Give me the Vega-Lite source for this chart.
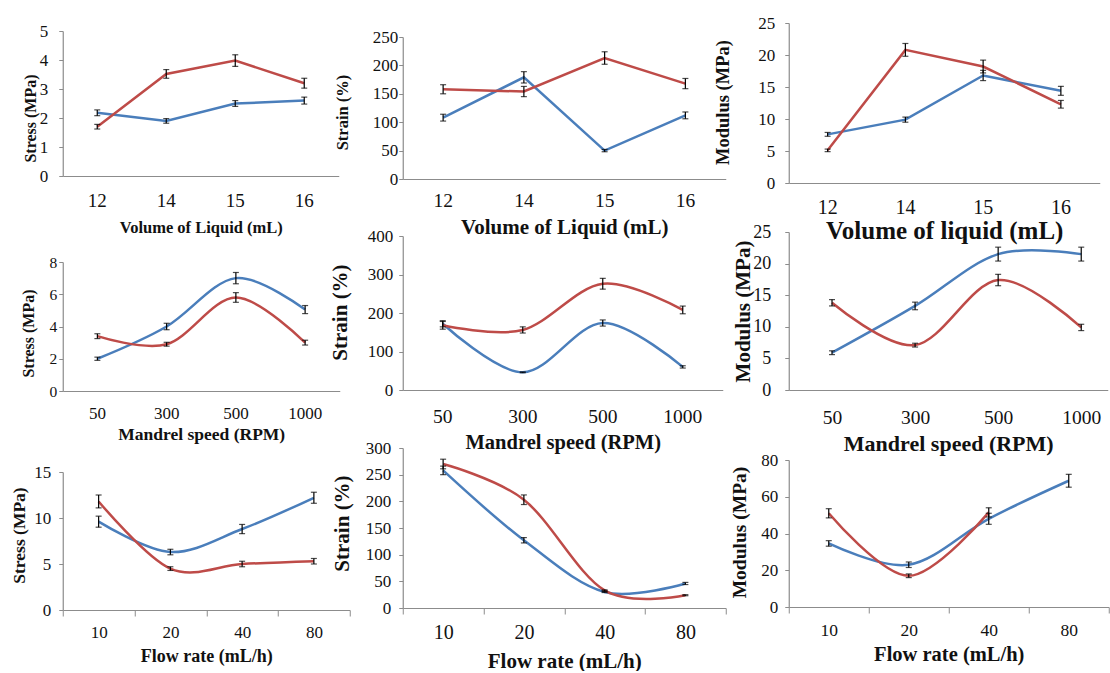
{
  "$schema": "https://vega.github.io/schema/vega-lite/v6.json",
  "autosize": {"type": "pad"},
  "padding": {"left": 9.75, "top": 0, "right": 0, "bottom": 0},
  "background": "white",
  "data": {"values": [
    {"p":"A","s":"blue","x":"12","y":2.18,"lo":2.08,"hi":2.28},
    {"p":"A","s":"blue","x":"14","y":1.9,"lo":1.82,"hi":1.98},
    {"p":"A","s":"blue","x":"15","y":2.5,"lo":2.4,"hi":2.6},
    {"p":"A","s":"blue","x":"16","y":2.6,"lo":2.48,"hi":2.72},
    {"p":"A","s":"red","x":"12","y":1.7,"lo":1.62,"hi":1.78},
    {"p":"A","s":"red","x":"14","y":3.52,"lo":3.37,"hi":3.67},
    {"p":"A","s":"red","x":"15","y":3.98,"lo":3.78,"hi":4.18},
    {"p":"A","s":"red","x":"16","y":3.2,"lo":3.03,"hi":3.37},
    {"p":"B","s":"blue","x":"12","y":108,"lo":102,"hi":114},
    {"p":"B","s":"blue","x":"14","y":179,"lo":169,"hi":189},
    {"p":"B","s":"blue","x":"15","y":50,"lo":48,"hi":52},
    {"p":"B","s":"blue","x":"16","y":112,"lo":106,"hi":118},
    {"p":"B","s":"red","x":"12","y":158,"lo":150,"hi":166},
    {"p":"B","s":"red","x":"14","y":154,"lo":145,"hi":163},
    {"p":"B","s":"red","x":"15","y":213,"lo":202,"hi":224},
    {"p":"B","s":"red","x":"16","y":168,"lo":159,"hi":177},
    {"p":"C","s":"blue","x":"12","y":7.6,"lo":7.3,"hi":7.9},
    {"p":"C","s":"blue","x":"14","y":9.9,"lo":9.5,"hi":10.3},
    {"p":"C","s":"blue","x":"15","y":16.8,"lo":16.0,"hi":17.6},
    {"p":"C","s":"blue","x":"16","y":14.4,"lo":13.7,"hi":15.1},
    {"p":"C","s":"red","x":"12","y":5.1,"lo":4.9,"hi":5.3},
    {"p":"C","s":"red","x":"14","y":20.8,"lo":19.8,"hi":21.8},
    {"p":"C","s":"red","x":"15","y":18.2,"lo":17.2,"hi":19.2},
    {"p":"C","s":"red","x":"16","y":12.3,"lo":11.7,"hi":12.9},
    {"p":"D","s":"blue","x":"50","y":2.0,"lo":1.9,"hi":2.1},
    {"p":"D","s":"blue","x":"300","y":4.0,"lo":3.8,"hi":4.2},
    {"p":"D","s":"blue","x":"500","y":7.0,"lo":6.65,"hi":7.35},
    {"p":"D","s":"blue","x":"1000","y":5.05,"lo":4.8,"hi":5.3},
    {"p":"D","s":"red","x":"50","y":3.4,"lo":3.25,"hi":3.55},
    {"p":"D","s":"red","x":"300","y":2.9,"lo":2.78,"hi":3.02},
    {"p":"D","s":"red","x":"500","y":5.8,"lo":5.5,"hi":6.1},
    {"p":"D","s":"red","x":"1000","y":3.0,"lo":2.85,"hi":3.15},
    {"p":"E","s":"blue","x":"50","y":172,"lo":164,"hi":180},
    {"p":"E","s":"blue","x":"300","y":46,"lo":45,"hi":47},
    {"p":"E","s":"blue","x":"500","y":174,"lo":166,"hi":182},
    {"p":"E","s":"blue","x":"1000","y":60,"lo":57,"hi":63},
    {"p":"E","s":"red","x":"50","y":168,"lo":158,"hi":178},
    {"p":"E","s":"red","x":"300","y":156,"lo":148,"hi":164},
    {"p":"E","s":"red","x":"500","y":276,"lo":262,"hi":290},
    {"p":"E","s":"red","x":"1000","y":208,"lo":198,"hi":218},
    {"p":"F","s":"blue","x":"50","y":5.9,"lo":5.6,"hi":6.2},
    {"p":"F","s":"blue","x":"300","y":13.3,"lo":12.7,"hi":13.9},
    {"p":"F","s":"blue","x":"500","y":21.5,"lo":20.4,"hi":22.6},
    {"p":"F","s":"blue","x":"1000","y":21.5,"lo":20.4,"hi":22.6},
    {"p":"F","s":"red","x":"50","y":13.8,"lo":13.3,"hi":14.3},
    {"p":"F","s":"red","x":"300","y":7.1,"lo":6.8,"hi":7.4},
    {"p":"F","s":"red","x":"500","y":17.4,"lo":16.5,"hi":18.3},
    {"p":"F","s":"red","x":"1000","y":9.9,"lo":9.4,"hi":10.4},
    {"p":"G","s":"blue","x":"10","y":9.6,"lo":9.0,"hi":10.2},
    {"p":"G","s":"blue","x":"20","y":6.3,"lo":6.0,"hi":6.6},
    {"p":"G","s":"blue","x":"40","y":8.8,"lo":8.3,"hi":9.3},
    {"p":"G","s":"blue","x":"80","y":12.2,"lo":11.6,"hi":12.8},
    {"p":"G","s":"red","x":"10","y":11.8,"lo":11.1,"hi":12.5},
    {"p":"G","s":"red","x":"20","y":4.5,"lo":4.3,"hi":4.7},
    {"p":"G","s":"red","x":"40","y":5.0,"lo":4.7,"hi":5.3},
    {"p":"G","s":"red","x":"80","y":5.3,"lo":5.0,"hi":5.6},
    {"p":"H","s":"blue","x":"10","y":258,"lo":250,"hi":266},
    {"p":"H","s":"blue","x":"20","y":127,"lo":122,"hi":132},
    {"p":"H","s":"blue","x":"40","y":30,"lo":29,"hi":31},
    {"p":"H","s":"blue","x":"80","y":46,"lo":44,"hi":48},
    {"p":"H","s":"red","x":"10","y":270,"lo":261,"hi":279},
    {"p":"H","s":"red","x":"20","y":203,"lo":194,"hi":212},
    {"p":"H","s":"red","x":"40","y":33,"lo":32,"hi":34},
    {"p":"H","s":"red","x":"80","y":24,"lo":23,"hi":25},
    {"p":"I","s":"blue","x":"10","y":34.6,"lo":33.1,"hi":36.1},
    {"p":"I","s":"blue","x":"20","y":23,"lo":21.5,"hi":24.5},
    {"p":"I","s":"blue","x":"40","y":48,"lo":45,"hi":51},
    {"p":"I","s":"blue","x":"80","y":68.7,"lo":65.2,"hi":72.2},
    {"p":"I","s":"red","x":"10","y":51,"lo":48.5,"hi":53.5},
    {"p":"I","s":"red","x":"20","y":17,"lo":16,"hi":18},
    {"p":"I","s":"red","x":"40","y":51.5,"lo":49,"hi":54}
  ]},
  "align": "none",
  "spacing": -21,
  "hconcat": [
    {
      "align": "none",
      "spacing": 19,
      "vconcat": [
        {"width": 1, "height": 3, "transform": [{"filter": "false"}], "mark": "point", "encoding": {}},
        {
          "width": 276, "height": 145,
          "transform": [{"filter": "datum.p === 'A'"}],
          "resolve": {"axis": {"y": "independent"}},
          "encoding": {"x": {"field": "x", "type": "ordinal", "sort": null, "scale": {"paddingInner": 0, "paddingOuter": 0},
            "axis": {"title": "Volume of Liquid (mL)", "labelFontSize": 19, "labelPadding": 24, "titleFontSize": 16.5, "titleY": 51}}},
          "layer": [
            {"mark": {"type": "line", "interpolate": "linear", "strokeWidth": 2.5},
             "encoding": {"y": {"field": "y", "type": "quantitative", "scale": {"domain": [0, 5], "nice": false},
               "axis": {"title": "Stress (MPa)", "values": [0,1,2,3,4,5], "labelFontSize": 17, "labelPadding": 11, "titleFontSize": 16, "titleX": -32, "titleY": 87}},
               "color": {"field": "s", "type": "nominal", "scale": {"domain": ["blue","red"], "range": ["#4A7EBB","#BE4B48"]}, "legend": null}}},
            {"mark": {"type": "rule", "color": "#000", "strokeWidth": 1.2},
             "encoding": {"y": {"field": "lo", "type": "quantitative", "scale": {"domain": [0, 5], "nice": false}, "axis": null}, "y2": {"field": "hi"}}},
            {"transform": [{"fold": ["lo","hi"], "as": ["k","v"]}],
             "mark": {"type": "tick", "color": "#000", "size": 6, "thickness": 1.2},
             "encoding": {"y": {"field": "v", "type": "quantitative", "scale": {"domain": [0, 5], "nice": false}, "axis": null}}}
          ]
        },
        {
          "align": "none",
          "spacing": 20,
          "vconcat": [
            {
              "width": 277, "height": 129,
              "transform": [{"filter": "datum.p === 'D'"}],
              "resolve": {"axis": {"y": "independent"}},
              "encoding": {"x": {"field": "x", "type": "ordinal", "sort": null, "scale": {"paddingInner": 0, "paddingOuter": 0},
                "axis": {"title": "Mandrel speed (RPM)", "labelFontSize": 17, "labelPadding": 22, "titleFontSize": 17.5, "titleY": 43}}},
              "layer": [
                {"mark": {"type": "line", "interpolate": "cardinal", "strokeWidth": 2.5},
                 "encoding": {"y": {"field": "y", "type": "quantitative", "scale": {"domain": [0, 8], "nice": false},
                   "axis": {"title": "Stress (MPa)", "values": [0,2,4,6,8], "labelFontSize": 15.5, "labelPadding": 2, "titleFontSize": 16, "titleX": -34.5, "titleY": 71}},
                   "color": {"field": "s", "type": "nominal", "scale": {"domain": ["blue","red"], "range": ["#4A7EBB","#BE4B48"]}, "legend": null}}},
                {"mark": {"type": "rule", "color": "#000", "strokeWidth": 1.2},
                 "encoding": {"y": {"field": "lo", "type": "quantitative", "scale": {"domain": [0, 8], "nice": false}, "axis": null}, "y2": {"field": "hi"}}},
                {"transform": [{"fold": ["lo","hi"], "as": ["k","v"]}],
                 "mark": {"type": "tick", "color": "#000", "size": 6, "thickness": 1.2},
                 "encoding": {"y": {"field": "v", "type": "quantitative", "scale": {"domain": [0, 8], "nice": false}, "axis": null}}}
              ]
            },
            {
              "width": 287, "height": 138,
              "transform": [{"filter": "datum.p === 'G'"}],
              "resolve": {"axis": {"y": "independent"}},
              "encoding": {"x": {"field": "x", "type": "ordinal", "sort": null, "scale": {"paddingInner": 0, "paddingOuter": 0},
                "axis": {"title": "Flow rate (mL/h)", "labelFontSize": 17, "labelPadding": 16, "ticks": true, "tickSize": 6, "tickBand": "extent", "titleFontSize": 18, "titleY": 46}}},
              "layer": [
                {"mark": {"type": "line", "interpolate": "cardinal", "strokeWidth": 2.5},
                 "encoding": {"y": {"field": "y", "type": "quantitative", "scale": {"domain": [0, 15], "nice": false},
                   "axis": {"title": "Stress (MPa)", "values": [0,5,10,15], "labelFontSize": 17, "labelPadding": 8, "titleFontSize": 17.5, "titleX": -43.5, "titleY": 63}},
                   "color": {"field": "s", "type": "nominal", "scale": {"domain": ["blue","red"], "range": ["#4A7EBB","#BE4B48"]}, "legend": null}}},
                {"mark": {"type": "rule", "color": "#000", "strokeWidth": 1.2},
                 "encoding": {"y": {"field": "lo", "type": "quantitative", "scale": {"domain": [0, 15], "nice": false}, "axis": null}, "y2": {"field": "hi"}}},
                {"transform": [{"fold": ["lo","hi"], "as": ["k","v"]}],
                 "mark": {"type": "tick", "color": "#000", "size": 6, "thickness": 1.2},
                 "encoding": {"y": {"field": "v", "type": "quantitative", "scale": {"domain": [0, 15], "nice": false}, "axis": null}}}
              ]
            }
          ]
        }
      ]
    },
    {
      "align": "none",
      "spacing": -13,
      "hconcat": [
        {
          "align": "none",
          "spacing": -10,
          "vconcat": [
            {"width": 1, "height": 38, "transform": [{"filter": "false"}], "mark": "point", "encoding": {}},
            {
              "width": 323, "height": 142,
              "transform": [{"filter": "datum.p === 'B'"}],
              "resolve": {"axis": {"y": "independent"}},
              "encoding": {"x": {"field": "x", "type": "ordinal", "sort": null, "scale": {"paddingInner": 0, "paddingOuter": 0},
                "axis": {"title": "Volume of Liquid (mL)", "labelFontSize": 19.5, "labelPadding": 21, "titleFontSize": 21, "titleY": 48}}},
              "layer": [
                {"mark": {"type": "line", "interpolate": "linear", "strokeWidth": 2.5},
                 "encoding": {"y": {"field": "y", "type": "quantitative", "scale": {"domain": [0, 250], "nice": false},
                   "axis": {"title": "Strain (%)", "values": [0,50,100,150,200,250], "labelFontSize": 17, "labelPadding": 1, "titleFontSize": 16.5, "titleX": -60, "titleY": 75}},
                   "color": {"field": "s", "type": "nominal", "scale": {"domain": ["blue","red"], "range": ["#4A7EBB","#BE4B48"]}, "legend": null}}},
                {"mark": {"type": "rule", "color": "#000", "strokeWidth": 1.2},
                 "encoding": {"y": {"field": "lo", "type": "quantitative", "scale": {"domain": [0, 250], "nice": false}, "axis": null}, "y2": {"field": "hi"}}},
                {"transform": [{"fold": ["lo","hi"], "as": ["k","v"]}],
                 "mark": {"type": "tick", "color": "#000", "size": 6, "thickness": 1.2},
                 "encoding": {"y": {"field": "v", "type": "quantitative", "scale": {"domain": [0, 250], "nice": false}, "axis": null}}}
              ]
            },
            {
              "align": "none",
              "spacing": -14,
              "vconcat": [
                {
                  "width": 320, "height": 154,
                  "transform": [{"filter": "datum.p === 'E'"}],
                  "resolve": {"axis": {"y": "independent"}},
                  "encoding": {"x": {"field": "x", "type": "ordinal", "sort": null, "scale": {"paddingInner": 0, "paddingOuter": 0},
                    "axis": {"title": "Mandrel speed (RPM)", "labelFontSize": 19.5, "labelPadding": 26, "titleFontSize": 20.5, "titleY": 52}}},
                  "layer": [
                    {"mark": {"type": "line", "interpolate": "cardinal", "strokeWidth": 2.5},
                     "encoding": {"y": {"field": "y", "type": "quantitative", "scale": {"domain": [0, 400], "nice": false},
                       "axis": {"title": "Strain (%)", "values": [0,100,200,300,400], "labelFontSize": 17, "labelPadding": 6, "titleFontSize": 21, "titleX": -62, "titleY": 76}},
                       "color": {"field": "s", "type": "nominal", "scale": {"domain": ["blue","red"], "range": ["#4A7EBB","#BE4B48"]}, "legend": null}}},
                    {"mark": {"type": "rule", "color": "#000", "strokeWidth": 1.2},
                     "encoding": {"y": {"field": "lo", "type": "quantitative", "scale": {"domain": [0, 400], "nice": false}, "axis": null}, "y2": {"field": "hi"}}},
                    {"transform": [{"fold": ["lo","hi"], "as": ["k","v"]}],
                     "mark": {"type": "tick", "color": "#000", "size": 6, "thickness": 1.2},
                     "encoding": {"y": {"field": "v", "type": "quantitative", "scale": {"domain": [0, 400], "nice": false}, "axis": null}}}
                  ]
                },
                {
                  "width": 323, "height": 160,
                  "transform": [{"filter": "datum.p === 'H'"}],
                  "resolve": {"axis": {"y": "independent"}},
                  "encoding": {"x": {"field": "x", "type": "ordinal", "sort": null, "scale": {"paddingInner": 0, "paddingOuter": 0},
                    "axis": {"title": "Flow rate (mL/h)", "labelFontSize": 20, "labelPadding": 18, "ticks": true, "tickSize": 6, "tickBand": "extent", "titleFontSize": 21, "titleY": 53}}},
                  "layer": [
                    {"mark": {"type": "line", "interpolate": "cardinal", "strokeWidth": 2.5},
                     "encoding": {"y": {"field": "y", "type": "quantitative", "scale": {"domain": [0, 300], "nice": false},
                       "axis": {"title": "Strain (%)", "values": [0,50,100,150,200,250,300], "labelFontSize": 17, "labelPadding": 8, "titleFontSize": 21, "titleX": -60, "titleY": 75}},
                       "color": {"field": "s", "type": "nominal", "scale": {"domain": ["blue","red"], "range": ["#4A7EBB","#BE4B48"]}, "legend": null}}},
                    {"mark": {"type": "rule", "color": "#000", "strokeWidth": 1.2},
                     "encoding": {"y": {"field": "lo", "type": "quantitative", "scale": {"domain": [0, 300], "nice": false}, "axis": null}, "y2": {"field": "hi"}}},
                    {"transform": [{"fold": ["lo","hi"], "as": ["k","v"]}],
                     "mark": {"type": "tick", "color": "#000", "size": 6, "thickness": 1.2},
                     "encoding": {"y": {"field": "v", "type": "quantitative", "scale": {"domain": [0, 300], "nice": false}, "axis": null}}}
                  ]
                }
              ]
            }
          ]
        },
        {
          "align": "none",
          "spacing": -20,
          "vconcat": [
            {"width": 1, "height": 34, "transform": [{"filter": "false"}], "mark": "point", "encoding": {}},
            {
              "width": 311, "height": 160,
              "transform": [{"filter": "datum.p === 'C'"}],
              "resolve": {"axis": {"y": "independent"}},
              "encoding": {"x": {"field": "x", "type": "ordinal", "sort": null, "scale": {"paddingInner": 0, "paddingOuter": 0},
                "axis": {"title": "Volume of liquid (mL)", "labelFontSize": 20, "labelPadding": 24, "titleFontSize": 25, "titleY": 47}}},
              "layer": [
                {"mark": {"type": "line", "interpolate": "linear", "strokeWidth": 2.5},
                 "encoding": {"y": {"field": "y", "type": "quantitative", "scale": {"domain": [0, 25], "nice": false},
                   "axis": {"title": "Modulus (MPa)", "values": [0,5,10,15,20,25], "labelFontSize": 17, "labelPadding": 10, "titleFontSize": 18.5, "titleX": -66, "titleY": 79}},
                   "color": {"field": "s", "type": "nominal", "scale": {"domain": ["blue","red"], "range": ["#4A7EBB","#BE4B48"]}, "legend": null}}},
                {"mark": {"type": "rule", "color": "#000", "strokeWidth": 1.2},
                 "encoding": {"y": {"field": "lo", "type": "quantitative", "scale": {"domain": [0, 25], "nice": false}, "axis": null}, "y2": {"field": "hi"}}},
                {"transform": [{"fold": ["lo","hi"], "as": ["k","v"]}],
                 "mark": {"type": "tick", "color": "#000", "size": 6, "thickness": 1.2},
                 "encoding": {"y": {"field": "v", "type": "quantitative", "scale": {"domain": [0, 25], "nice": false}, "axis": null}}}
              ]
            },
            {
              "align": "none",
              "spacing": -3,
              "vconcat": [
                {
                  "width": 319, "height": 158,
                  "transform": [{"filter": "datum.p === 'F'"}],
                  "resolve": {"axis": {"y": "independent"}},
                  "encoding": {"x": {"field": "x", "type": "ordinal", "sort": null, "scale": {"type": "point", "padding": 0.42, "align": 0.62},
                    "axis": {"title": "Mandrel speed (RPM)", "labelFontSize": 19.5, "labelPadding": 27, "titleFontSize": 22, "titleY": 53}}},
                  "layer": [
                    {"mark": {"type": "line", "interpolate": "cardinal", "strokeWidth": 2.5},
                     "encoding": {"y": {"field": "y", "type": "quantitative", "scale": {"domain": [0, 25], "nice": false},
                       "axis": {"title": "Modulus (MPa)", "values": [0,5,10,15,20,25], "labelFontSize": 18, "labelPadding": 14, "titleFontSize": 21, "titleX": -45, "titleY": 79}},
                       "color": {"field": "s", "type": "nominal", "scale": {"domain": ["blue","red"], "range": ["#4A7EBB","#BE4B48"]}, "legend": null}}},
                    {"mark": {"type": "rule", "color": "#000", "strokeWidth": 1.2},
                     "encoding": {"y": {"field": "lo", "type": "quantitative", "scale": {"domain": [0, 25], "nice": false}, "axis": null}, "y2": {"field": "hi"}}},
                    {"transform": [{"fold": ["lo","hi"], "as": ["k","v"]}],
                     "mark": {"type": "tick", "color": "#000", "size": 6, "thickness": 1.2},
                     "encoding": {"y": {"field": "v", "type": "quantitative", "scale": {"domain": [0, 25], "nice": false}, "axis": null}}}
                  ]
                },
                {
                  "width": 320, "height": 147,
                  "transform": [{"filter": "datum.p === 'I'"}],
                  "resolve": {"axis": {"y": "independent"}},
                  "encoding": {"x": {"field": "x", "type": "ordinal", "sort": null, "scale": {"paddingInner": 0, "paddingOuter": 0},
                    "axis": {"title": "Flow rate (mL/h)", "labelFontSize": 17.5, "labelPadding": 17, "ticks": true, "tickSize": 6, "tickBand": "extent", "titleFontSize": 20.5, "titleY": 47}}},
                  "layer": [
                    {"mark": {"type": "line", "interpolate": "cardinal", "strokeWidth": 2.5},
                     "encoding": {"y": {"field": "y", "type": "quantitative", "scale": {"domain": [0, 80], "nice": false},
                       "axis": {"title": "Modulus (MPa)", "values": [0,20,40,60,80], "labelFontSize": 17, "labelPadding": 7, "titleFontSize": 19.5, "titleX": -49, "titleY": 72}},
                       "color": {"field": "s", "type": "nominal", "scale": {"domain": ["blue","red"], "range": ["#4A7EBB","#BE4B48"]}, "legend": null}}},
                    {"mark": {"type": "rule", "color": "#000", "strokeWidth": 1.2},
                     "encoding": {"y": {"field": "lo", "type": "quantitative", "scale": {"domain": [0, 80], "nice": false}, "axis": null}, "y2": {"field": "hi"}}},
                    {"transform": [{"fold": ["lo","hi"], "as": ["k","v"]}],
                     "mark": {"type": "tick", "color": "#000", "size": 6, "thickness": 1.2},
                     "encoding": {"y": {"field": "v", "type": "quantitative", "scale": {"domain": [0, 80], "nice": false}, "axis": null}}}
                  ]
                }
              ]
            }
          ]
        }
      ]
    }
  ],
  "config": {
    "view": {"stroke": null},
    "font": "Liberation Serif",
    "axis": {"labelFont": "Liberation Serif", "titleFont": "Liberation Serif", "labelColor": "#111111", "titleColor": "#111111", "domainColor": "#8c8c8c", "tickColor": "#8c8c8c", "domainWidth": 1.2, "grid": false, "titleFontWeight": "bold", "labelFontWeight": "normal"},
    "axisY": {"tickSize": 4, "titleAngle": 270, "titleBaseline": "middle", "titleAlign": "center", "labelBaseline": "middle", "labelAlign": "right"},
    "axisX": {"labelAngle": 0, "labelBaseline": "middle", "labelAlign": "center", "titleBaseline": "middle", "titleAlign": "center", "ticks": false, "tickSize": 0}
  }
}
